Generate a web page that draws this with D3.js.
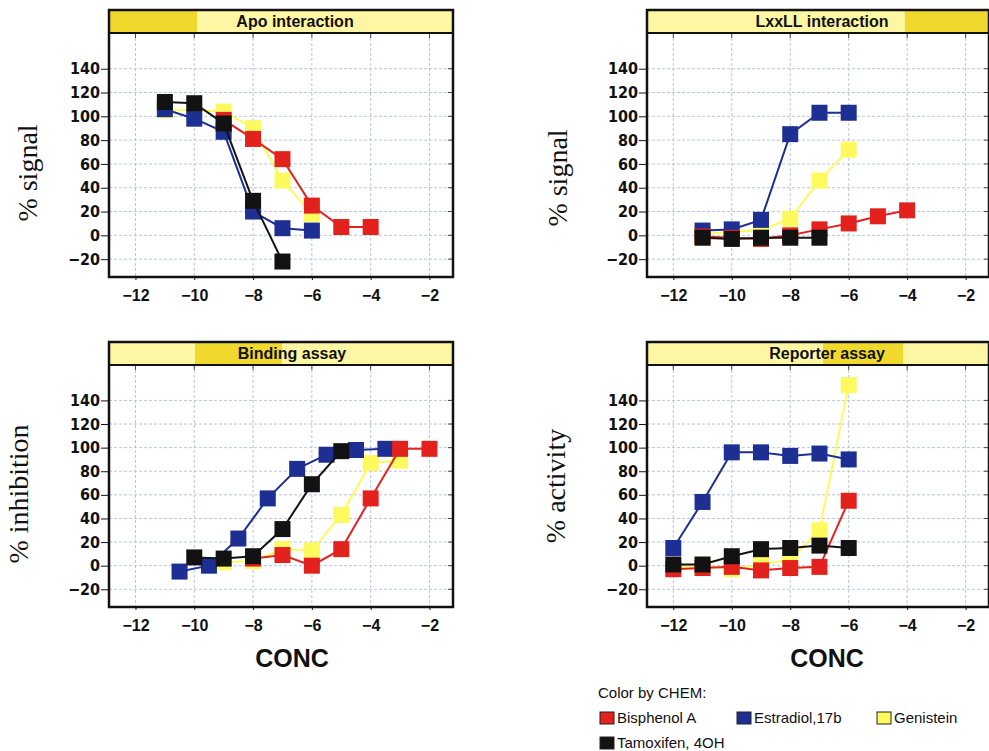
<!DOCTYPE html>
<html lang="en">
<head>
<meta charset="UTF-8">
<title>Color by CHEM - concentration response</title>
<script src="https://d3js.org/d3.v7.min.js"></script>
<style>
    body { margin: 0; background: #fff; }
    .grid line { stroke: #b7c6de; stroke-width: 1; stroke-dasharray: 3,2; }
    .stub line { stroke: #444; stroke-width: 1; }
    .yaxis text { font-family: "Liberation Sans Narrow", "DejaVu Sans Condensed", "Liberation Sans", Arial, sans-serif;
                  font-weight: bold; font-size: 16px; fill: #111; }
    .xaxis text { font-family: "Liberation Sans", Arial, sans-serif; font-weight: bold; font-size: 16px; fill: #111; }
    .yaxis line, .xaxis line { stroke: #111; }
    .ylab { font-family: "Liberation Serif", "Times New Roman", serif; font-size: 28px; fill: #111; }
    .ptitle { font-family: "Liberation Sans", Arial, sans-serif; font-weight: bold; font-size: 16px; fill: #111; }
    .conc { font-family: "Liberation Sans", Arial, sans-serif; font-weight: bold; font-size: 25px; fill: #111; }
    .legend text { font-family: "Liberation Sans", Arial, sans-serif; font-size: 15px; fill: #111; }
</style>
</head>
<body>
<div id="chart"></div>
<script>
    // ---- data ----
    var chems = ["Bisphenol A", "Estradiol,17b", "Genistein", "Tamoxifen, 4OH"];
    var chemColors = ["#e3211d", "#1d2f92", "#fcfa5c", "#121212"];
    var drawOrder = [2, 1, 0, 3];   // yellow under, black on top

    var panelTitles = ["Apo interaction", "LxxLL interaction", "Binding assay", "Reporter assay"];
    var yLabels = ["% signal", "% signal", "% inhibition", "% activity"];
    var xTicks = [-12, -10, -8, -6, -4, -2];
    var yTicks = [-20, 0, 20, 40, 60, 80, 100, 120, 140];

    // [log conc, value]
    var apoBisphenol = [[-9, 97], [-8, 81], [-7, 64], [-6, 25], [-5, 7], [-4, 7]];
    var apoEstradiol = [[-11, 106], [-10, 98], [-9, 87], [-8, 20], [-7, 6], [-6, 4]];
    var apoGenistein = [[-11, 105], [-10, 105], [-9, 104], [-8, 90], [-7, 46], [-6, 18]];
    var apoTamoxifen = [[-11, 112], [-10, 111], [-9, 94], [-8, 29], [-7, -22]];

    var lxxBisphenol = [[-11, -1], [-10, -2], [-9, -3], [-8, 0], [-7, 5], [-6, 10], [-5, 16], [-4, 21]];
    var lxxEstradiol = [[-11, 4], [-10, 5], [-9, 13], [-8, 85], [-7, 103], [-6, 103]];
    var lxxGenistein = [[-11, 1], [-10, 3], [-9, 4], [-8, 14], [-7, 46], [-6, 72]];
    var lxxTamoxifen = [[-11, -2], [-10, -3], [-9, -2], [-8, -2], [-7, -2]];

    var bindBisphenol = [[-8, 6], [-7, 9], [-6, 0], [-5, 14], [-4, 57], [-3, 99], [-2, 99]];
    var bindEstradiol = [[-10.5, -5], [-9.5, 0], [-8.5, 23], [-7.5, 57], [-6.5, 82], [-5.5, 94], [-4.5, 98], [-3.5, 99]];
    var bindGenistein = [[-9, 3], [-8, 4], [-7, 14], [-6, 13], [-5, 43], [-4, 87], [-3, 89]];
    var bindTamoxifen = [[-10, 7], [-9, 6], [-8, 8], [-7, 31], [-6, 69], [-5, 97]];

    var repBisphenol = [[-12, -3], [-11, -2], [-10, -1], [-9, -4], [-8, -2], [-7, -1], [-6, 55]];
    var repEstradiol = [[-12, 15], [-11, 54], [-10, 96], [-9, 96], [-8, 93], [-7, 95], [-6, 90]];
    var repGenistein = [[-12, -1], [-11, 0], [-10, -3], [-9, 1], [-8, 5], [-7, 30], [-6, 153]];
    var repTamoxifen = [[-12, 1], [-11, 1], [-10, 8], [-9, 14], [-8, 15], [-7, 17], [-6, 15]];

    // ---- layout ----
    var W = 989, H = 751;
    var titleH = 23;
    var xDomain = [-12.9, -1.2];
    var yDomain = [-35, 170];

    var panels = [
        {title: panelTitles[0], ylab: yLabels[0], left: 109, right: 453, top: 10, bottom: 277,
         hl: [0, 0.256], labX: 37, labY: 173, textDx: 14, conc: false,
         series: [apoBisphenol, apoEstradiol, apoGenistein, apoTamoxifen]},
        {title: panelTitles[1], ylab: yLabels[1], left: 647, right: 989, top: 10, bottom: 277,
         hl: [0.754, 1], labX: 567, labY: 178, textDx: 4, conc: false,
         series: [lxxBisphenol, lxxEstradiol, lxxGenistein, lxxTamoxifen]},
        {title: panelTitles[2], ylab: yLabels[2], left: 109, right: 453, top: 342, bottom: 607,
         hl: [0.25, 0.503], labX: 28, labY: 494, textDx: 11, conc: true,
         series: [bindBisphenol, bindEstradiol, bindGenistein, bindTamoxifen]},
        {title: panelTitles[3], ylab: yLabels[3], left: 647, right: 989, top: 342, bottom: 607,
         hl: [0.515, 0.749], labX: 565, labY: 486, textDx: 9, conc: true,
         series: [repBisphenol, repEstradiol, repGenistein, repTamoxifen]}
    ];

    var svg = d3.select("#chart").append("svg")
        .attr("width", W)
        .attr("height", H);

    function drawPanel(p) {
        var plotTop = p.top + titleH;
        var x = d3.scaleLinear().domain(xDomain).range([p.left, p.right]);
        var y = d3.scaleLinear().domain(yDomain).range([p.bottom, plotTop]);
        var g = svg.append("g");

        g.append("rect")
            .attr("x", p.left).attr("y", plotTop)
            .attr("width", p.right - p.left).attr("height", p.bottom - plotTop)
            .attr("fill", "#fff");

        /* grid */
        var grid = g.append("g").attr("class", "grid");
        grid.selectAll(".gx").data(xTicks).join("line")
            .attr("x1", function(d) { return x(d); }).attr("x2", function(d) { return x(d); })
            .attr("y1", plotTop).attr("y2", p.bottom);
        grid.selectAll(".gy").data(yTicks).join("line")
            .attr("class", "gy")
            .attr("x1", p.left).attr("x2", p.right)
            .attr("y1", function(d) { return y(d); }).attr("y2", function(d) { return y(d); });

        /* little inner tick stubs on the top and right edges */
        var stub = g.append("g").attr("class", "stub");
        stub.selectAll(".sx").data(xTicks).join("line")
            .attr("class", "sx")
            .attr("x1", function(d) { return x(d); }).attr("x2", function(d) { return x(d); })
            .attr("y1", plotTop).attr("y2", plotTop + 5);
        stub.selectAll(".sy").data(yTicks).join("line")
            .attr("class", "sy")
            .attr("x1", p.right - 5).attr("x2", p.right)
            .attr("y1", function(d) { return y(d); }).attr("y2", function(d) { return y(d); });

        /* axes */
        g.append("g")
            .attr("class", "yaxis")
            .attr("transform", "translate(" + p.left + ",0)")
            .call(d3.axisLeft(y).tickValues(yTicks).tickSize(8).tickPadding(1).tickFormat(d3.format("d")))
            .select(".domain").remove();

        g.append("g")
            .attr("class", "xaxis")
            .attr("transform", "translate(0," + p.bottom + ")")
            .call(d3.axisBottom(x).tickValues(xTicks).tickSize(3).tickPadding(10).tickFormat(d3.format("d")))
            .select(".domain").remove();

        /* series */
        var line = d3.line()
            .x(function(d) { return x(d[0]); })
            .y(function(d) { return y(d[1]); });

        drawOrder.forEach(function(i) {
            var s = p.series[i];
            g.append("path")
                .datum(s)
                .attr("fill", "none")
                .attr("stroke", chemColors[i])
                .attr("stroke-width", 2)
                .attr("d", line);
            g.selectAll(".m" + i).data(s).join("rect")
                .attr("class", "m" + i)
                .attr("x", function(d) { return x(d[0]) - 8; })
                .attr("y", function(d) { return y(d[1]) - 8; })
                .attr("width", 16).attr("height", 16)
                .attr("fill", chemColors[i]);
        });

        /* title bar */
        var fw = p.right - p.left;
        g.append("rect")
            .attr("x", p.left).attr("y", p.top)
            .attr("width", fw).attr("height", titleH)
            .attr("fill", "#fdf7a4");
        g.append("rect")
            .attr("x", p.left + fw * p.hl[0]).attr("y", p.top)
            .attr("width", fw * (p.hl[1] - p.hl[0])).attr("height", titleH)
            .attr("fill", "#f0d92c");
        g.append("line")
            .attr("x1", p.left).attr("x2", p.right)
            .attr("y1", plotTop).attr("y2", plotTop)
            .attr("stroke", "#111").attr("stroke-width", 2);
        g.append("text")
            .attr("class", "ptitle")
            .attr("x", (p.left + p.right) / 2 + p.textDx)
            .attr("y", p.top + 17)
            .attr("text-anchor", "middle")
            .text(p.title);

        /* frame */
        g.append("rect")
            .attr("x", p.left).attr("y", p.top)
            .attr("width", fw).attr("height", p.bottom - p.top)
            .attr("fill", "none")
            .attr("stroke", "#111")
            .attr("stroke-width", 2.5);

        /* y label */
        g.append("text")
            .attr("class", "ylab")
            .attr("transform", "translate(" + p.labX + "," + p.labY + ") rotate(-90)")
            .attr("text-anchor", "middle")
            .text(p.ylab);

        if (p.conc) {
            g.append("text")
                .attr("class", "conc")
                .attr("x", (p.left + p.right) / 2 + p.textDx)
                .attr("y", 667)
                .attr("text-anchor", "middle")
                .text("CONC");
        }
    }

    panels.forEach(drawPanel);

    /* legend */
    var legendPos = [[600, 712], [737, 712], [877, 712], [600, 737]];
    var lg = svg.append("g").attr("class", "legend");
    lg.append("text").attr("x", 598).attr("y", 698).text("Color by CHEM:");
    chems.forEach(function(c, i) {
        lg.append("rect")
            .attr("x", legendPos[i][0]).attr("y", legendPos[i][1])
            .attr("width", 14).attr("height", 12)
            .attr("fill", chemColors[i])
            .attr("stroke", "#222").attr("stroke-width", 1);
        lg.append("text")
            .attr("x", legendPos[i][0] + 17)
            .attr("y", legendPos[i][1] + 11)
            .text(c);
    });
</script>
</body>
</html>
